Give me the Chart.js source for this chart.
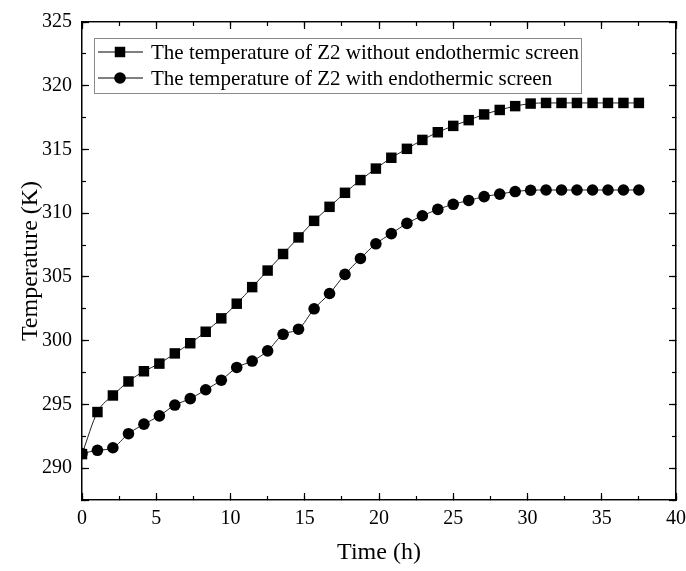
<!DOCTYPE html>
<html>
<head>
<meta charset="utf-8">
<script src="https://cdn.jsdelivr.net/npm/chart.js@4.4.1/dist/chart.umd.min.js"></script>
<style>
  body { margin: 0; background: #fff; }
  #wrap { width: 686px; height: 571px; }
</style>
</head>
<body>
<div id="wrap"><canvas id="chart" width="686" height="571"></canvas></div>
<script>
// time axis (h)
var timeH = [0, 1.04, 2.08, 3.13, 4.17, 5.21, 6.25, 7.29, 8.33, 9.38, 10.42, 11.46, 12.5, 13.54, 14.58,
  15.63, 16.67, 17.71, 18.75, 19.79, 20.83, 21.88, 22.92, 23.96, 25, 26.04, 27.08, 28.13, 29.17,
  30.21, 31.25, 32.29, 33.33, 34.38, 35.42, 36.46, 37.5];

// Z2 temperature without endothermic screen (K)
var tempWithout = [291.1, 294.4, 295.7, 296.8, 297.6, 298.2, 299.0, 299.8, 300.7, 301.75, 302.9, 304.2, 305.5,
  306.8, 308.1, 309.4, 310.5, 311.6, 312.6, 313.5, 314.35, 315.05, 315.75, 316.35, 316.85, 317.3,
  317.75, 318.1, 318.4, 318.6, 318.65, 318.65, 318.65, 318.65, 318.65, 318.65, 318.65];

// Z2 temperature with endothermic screen (K)
var tempWith = [291.15, 291.4, 291.6, 292.7, 293.45, 294.1, 294.95, 295.45, 296.15, 296.9, 297.9, 298.4, 299.2,
  300.5, 300.9, 302.5, 303.7, 305.2, 306.45, 307.6, 308.4, 309.2, 309.8, 310.3, 310.7, 311.0,
  311.3, 311.5, 311.7, 311.8, 311.82, 311.82, 311.82, 311.82, 311.82, 311.82, 311.82];

var seriesNames = ["The temperature of Z2 without endothermic screen", "The temperature of Z2 with endothermic screen"];
var xRange = [0, 40];
var yRange = [287.5, 325];

Chart.defaults.font.family = '"Liberation Serif", "Times New Roman", serif';
Chart.defaults.color = '#000';

function pts(ys) {
  return timeH.map(function(t, i){ return {x: t, y: ys[i]}; });
}

// one scale: major ones carry labels, minor ones only short ticks
function axis(pos, range, step, tl, labels, size, weight) {
  return {
    type: 'linear', position: pos, min: range[0], max: range[1], weight: weight,
    grid: { drawOnChartArea: false, drawTicks: true, tickLength: tl, tickColor: '#000', tickWidth: 1.2 },
    border: { display: true, color: '#000', width: 1.3 },
    ticks: {
      display: labels, stepSize: step, autoSkip: false, maxRotation: 0,
      font: { size: 20 }, padding: (pos == 'left' || pos == 'right') ? 17 : 14,
      callback: function(v){ return v % 5 === 0 ? v : ''; }
    },
    afterFit: function(s){
      if (pos == 'left' || pos == 'right') s.width = size; else s.height = size;
      s.paddingLeft = 0; s.paddingRight = 0; s.paddingTop = 0; s.paddingBottom = 0;
    }
  };
}

var xMain = axis('bottom', xRange, 5, -7, true, 71, 1);
xMain.title = { display: true, text: 'Time (h)', font: { size: 24 }, padding: { top: 0, bottom: 4 } };
var yMain = axis('left', yRange, 5, -7, true, 82, 1);
yMain.title = { display: true, text: 'Temperature (K)', font: { size: 24 }, padding: { top: 16, bottom: 0 } };

var insideLegend = {
  id: 'insideLegend',
  afterDraw: function(chart) {
    var ctx = chart.ctx, ca = chart.chartArea;
    var bx = ca.left + 12, by = ca.top + 16, bw = 487, bh = 55;
    ctx.save();
    ctx.fillStyle = '#fff';
    ctx.fillRect(bx, by, bw, bh);
    ctx.strokeStyle = '#8a8a8a';
    ctx.lineWidth = 1;
    ctx.strokeRect(bx + 0.5, by + 0.5, bw, bh);
    ctx.font = '21px "Liberation Serif"';
    ctx.textBaseline = 'middle';
    chart.data.datasets.forEach(function(ds, i){
      var cy = by + 14 + i * 26;
      ctx.strokeStyle = '#000';
      ctx.lineWidth = 1;
      ctx.beginPath(); ctx.moveTo(bx + 4, cy); ctx.lineTo(bx + 49, cy); ctx.stroke();
      ctx.fillStyle = '#000';
      Chart.helpers.drawPoint(ctx, { pointStyle: ds.pointStyle, radius: ds.pointRadius, borderWidth: 0, rotation: 0 }, bx + 26, cy);
      ctx.fillStyle = '#000';
      ctx.fillText(ds.label, bx + 57, cy + 1);
    });
    ctx.restore();
  }
};

var chart = new Chart(document.getElementById('chart').getContext('2d'), {
  type: 'line',
  data: {
    datasets: [
      {
        label: seriesNames[0], data: pts(tempWithout),
        borderColor: '#222', borderWidth: 1, cubicInterpolationMode: 'monotone',
        pointStyle: 'rect', pointRadius: 7.4, pointBackgroundColor: '#000', pointBorderWidth: 0
      },
      {
        label: seriesNames[1], data: pts(tempWith),
        borderColor: '#222', borderWidth: 1, cubicInterpolationMode: 'monotone',
        pointStyle: 'circle', pointRadius: 5.8, pointBackgroundColor: '#000', pointBorderWidth: 0
      }
    ]
  },
  options: {
    responsive: false,
    animation: false,
    layout: { padding: { top: 22, right: 10, left: 0, bottom: 0 } },
    plugins: { legend: { display: false }, tooltip: { enabled: false } },
    scales: {
      x: xMain,
      xMinor: axis('bottom', xRange, 2.5, -4, false, 0, 0),
      xTop: axis('top', xRange, 5, -7, false, 0, 1),
      xTopMinor: axis('top', xRange, 2.5, -4, false, 0, 0),
      y: yMain,
      yMinor: axis('left', yRange, 2.5, -4, false, 0, 0),
      yRight: axis('right', yRange, 5, -7, false, 0, 1),
      yRightMinor: axis('right', yRange, 2.5, -4, false, 0, 0)
    }
  },
  plugins: [insideLegend]
});
</script>
</body>
</html>
